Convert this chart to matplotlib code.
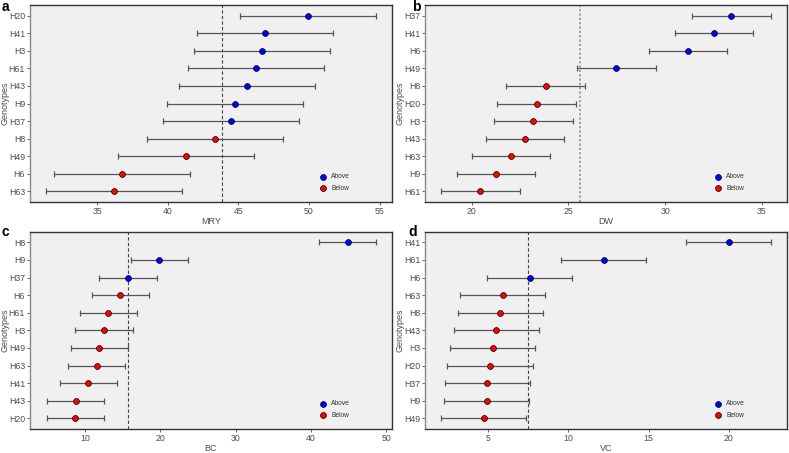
import matplotlib.pyplot as plt
import numpy as np

plt.rcParams['font.family'] = ['Liberation Sans', 'DejaVu Sans']

# panel a - MRY
mry_geno = ['H20', 'H41', 'H3', 'H61', 'H43', 'H9', 'H37', 'H8', 'H49', 'H6', 'H63']
mry_val = [49.96, 46.89, 46.70, 46.23, 45.64, 44.76, 44.48, 43.37, 41.29, 36.73, 36.21]
mry_err = 4.82
mry_mean = 43.87

# panel b - DW
dw_geno = ['H37', 'H41', 'H6', 'H49', 'H8', 'H20', 'H3', 'H43', 'H63', 'H9', 'H61']
dw_val = [33.42, 32.52, 31.18, 27.48, 23.82, 23.35, 23.18, 22.75, 22.03, 21.26, 20.45]
dw_err = 2.03
dw_mean = 25.59

# panel c - BC
bc_geno = ['H8', 'H9', 'H37', 'H6', 'H61', 'H3', 'H49', 'H63', 'H41', 'H43', 'H20']
bc_val = [44.86, 19.88, 15.71, 14.70, 13.10, 12.52, 11.90, 11.55, 10.44, 8.76, 8.72]
bc_err = 3.82
bc_mean = 15.67

# panel d - VC
vc_geno = ['H41', 'H61', 'H6', 'H63', 'H8', 'H43', 'H3', 'H20', 'H37', 'H9', 'H49']
vc_val = [20.0, 12.19, 7.58, 5.90, 5.75, 5.50, 5.27, 5.10, 4.94, 4.90, 4.71]
vc_err = 2.66
vc_mean = 7.46

fig = plt.figure(figsize=(7.89, 4.53), dpi=100)


def panel(rect, geno, val, err, mean, xlabel, xlim, xticks, letter, lpos,
          vcolor='#444444', vls=(0, (3, 2)), vlw=0.8):
    ax = fig.add_axes(rect)
    ax.set_facecolor('#f0f0f0')
    n = len(geno)
    y = np.arange(n)[::-1]
    val = np.array(val)
    ax.errorbar(val, y, xerr=err, fmt='none', ecolor='#555555', elinewidth=0.9,
                capsize=2, capthick=0.9, zorder=2)
    above = val >= mean
    ax.scatter(val[above], y[above], s=18, c='#0000ff', edgecolors='black',
               linewidths=0.5, zorder=3, label='Above')
    ax.scatter(val[~above], y[~above], s=18, c='#ff0000', edgecolors='black',
               linewidths=0.5, zorder=3, label='Below')
    ax.axvline(mean, color=vcolor, ls=vls, lw=vlw, zorder=1)
    ax.set_yticks(y)
    ax.set_yticklabels(geno)
    ax.set_ylim(-0.6, n - 0.4)
    ax.set_xlim(*xlim)
    ax.set_xticks(xticks)
    ax.tick_params(labelsize=6.3, colors='#4d4d4d', length=2.5, width=0.6, pad=1)
    ax.set_xlabel(xlabel, fontsize=6.5, color='#4d4d4d', labelpad=0.5)
    ax.set_ylabel('Genotypes', fontsize=6.5, color='#4d4d4d')
    ax.yaxis.set_label_coords(-0.056, 0.5)
    for s in ax.spines.values():
        s.set_color('#333333')
        s.set_linewidth(1.0)
    ax.spines['left'].set_color('#888888')
    ax.legend(loc='lower right', bbox_to_anchor=(0.9, 0.02), frameon=False,
              fontsize=4.8, handletextpad=0.2, labelspacing=0.7,
              labelcolor='#333333')
    fig.text(lpos[0], lpos[1], letter, fontsize=10, fontweight='bold', va='top')
    return ax


panel([0.038, 0.554, 0.4588, 0.435], mry_geno, mry_val, mry_err, mry_mean,
      'MRY', (30.23, 55.88), [35, 40, 45, 50, 55], 'a', (0.002, 0.999))
panel([0.5387, 0.554, 0.4588, 0.435], dw_geno, dw_val, dw_err, dw_mean,
      'DW', (17.59, 36.29), [20, 25, 30, 35], 'b', (0.522, 1.0),
      vcolor='#999999', vls=(0, (1.2, 1.2)), vlw=1.3)
panel([0.038, 0.053, 0.4588, 0.4355], bc_geno, bc_val, bc_err, bc_mean,
      'BC', (2.69, 50.75), [10, 20, 30, 40, 50], 'c', (0.002, 0.503))
panel([0.5387, 0.053, 0.4588, 0.4355], vc_geno, vc_val, vc_err, vc_mean,
      'VC', (1.04, 23.65), [5, 10, 15, 20], 'd', (0.518, 0.503))

fig.savefig('out.png', dpi=100)
